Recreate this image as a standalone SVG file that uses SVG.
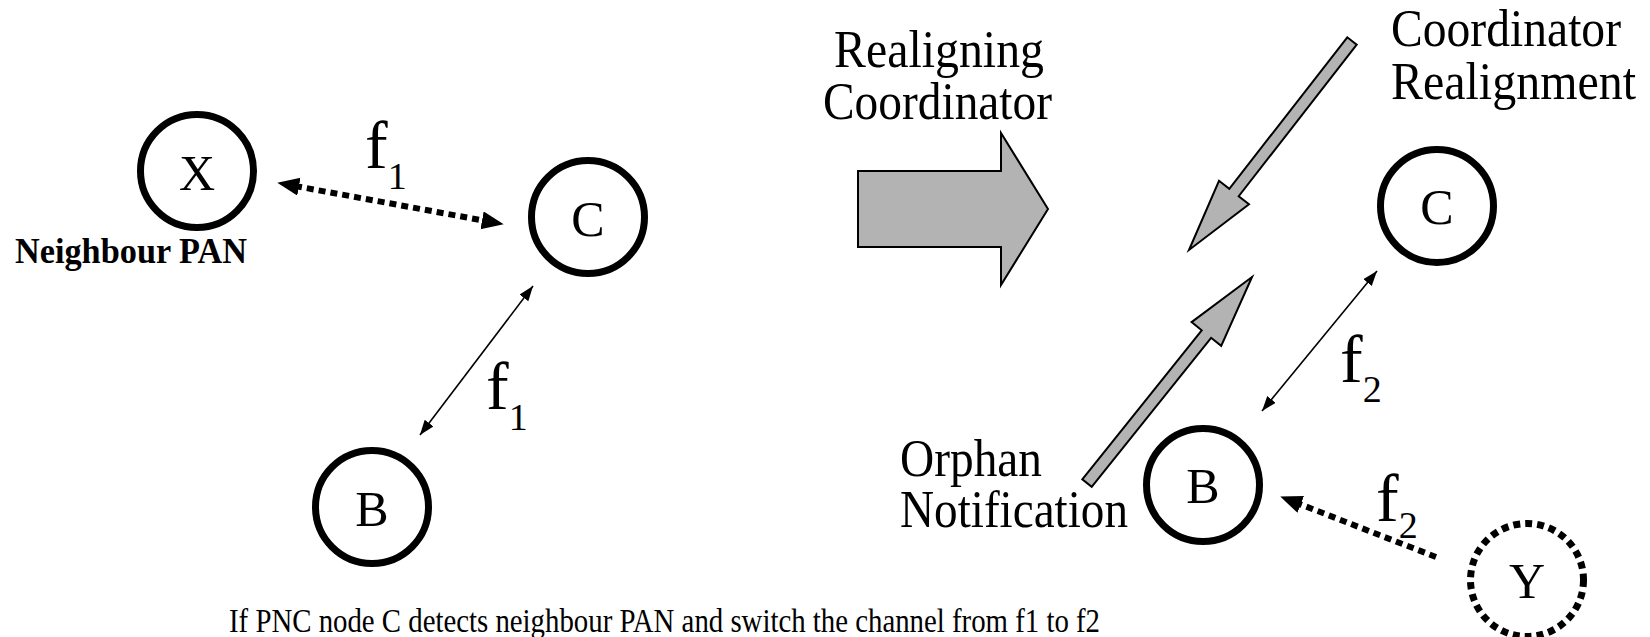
<svg xmlns="http://www.w3.org/2000/svg" width="1650" height="637" viewBox="0 0 1650 637">
<defs>
<style>
text{font-family:"Liberation Serif","Times New Roman",serif;fill:#000}
.node{fill:#fff;stroke:#000;stroke-width:7}
.dotnode{fill:#fff;stroke:#000;stroke-width:7;stroke-dasharray:7 5}
.lbl{font-size:50px;text-anchor:middle}
.big{font-size:52px}
.f{font-size:68px}
.sub{font-size:38px}
.thin{stroke:#000;stroke-width:1.6;fill:none}
.dots{stroke:#000;stroke-width:6;stroke-dasharray:7 5;fill:none}
.block{fill:#b3b3b3;stroke:#000;stroke-width:2;stroke-linejoin:miter}
</style>
<marker id="headS" markerUnits="userSpaceOnUse" markerWidth="16" markerHeight="12" refX="15" refY="5.5" orient="auto-start-reverse" viewBox="0 0 16 12">
<path d="M0,0 L15,5.5 L0,11 z" fill="#000"/>
</marker>
<marker id="headB" markerUnits="userSpaceOnUse" markerWidth="24" markerHeight="20" refX="4" refY="9" orient="auto-start-reverse" viewBox="0 0 24 20">
<path d="M0,0 L22,9 L0,18 z" fill="#000"/>
</marker>
</defs>
<rect width="1650" height="637" fill="#fff"/>

<g id="connectors">
<line class="dots" x1="295" y1="186" x2="486" y2="221" marker-start="url(#headB)" marker-end="url(#headB)"/>
<line class="thin" x1="533" y1="286" x2="420" y2="435" marker-start="url(#headS)" marker-end="url(#headS)"/>
<line class="thin" x1="1377" y1="271" x2="1262" y2="411" marker-start="url(#headS)" marker-end="url(#headS)"/>
<line class="dots" x1="1436" y1="557" x2="1297" y2="503" marker-end="url(#headB)"/>
<polygon id="big-arrow" class="block" points="858,171 1001,171 1001,133 1048,209 1001,285 1001,247 858,247"/>
<polygon id="realign-arrow" class="block" points="1347.3,37.3 1229.3,188.8 1219,180.8 1189,250 1249,204.2 1238.7,196.2 1356.7,44.7"/>
<polygon id="orphan-arrow" class="block" points="1082.3,479.3 1201.7,330.3 1191.6,322.1 1252,277 1221.2,345.9 1211.1,337.8 1091.7,486.8"/>
</g>

<g id="node-X">
<circle class="node" cx="197" cy="171" r="56.5"/>
<text class="lbl" x="197" y="190">X</text>
<text x="15" y="263" font-size="35" font-weight="bold" textLength="232" lengthAdjust="spacingAndGlyphs">Neighbour PAN</text>
</g>
<g id="node-C1">
<circle class="node" cx="588" cy="217" r="56.5"/>
<text class="lbl" x="588" y="236">C</text>
</g>
<g id="node-B1">
<circle class="node" cx="372" cy="507" r="56.5"/>
<text class="lbl" x="372" y="526">B</text>
</g>
<g id="node-C2">
<circle class="node" cx="1437" cy="206" r="56.5"/>
<text class="lbl" x="1437" y="224">C</text>
</g>
<g id="node-B2">
<circle class="node" cx="1203" cy="485" r="56.5"/>
<text class="lbl" x="1203" y="503">B</text>
</g>
<g id="node-Y">
<circle class="dotnode" cx="1527" cy="580" r="56.5"/>
<text class="lbl" x="1527" y="598">Y</text>
</g>

<g id="labels">
<text class="f" x="365" y="168">f<tspan class="sub" dy="21">1</tspan></text>
<text class="f" x="486" y="409">f<tspan class="sub" dy="21">1</tspan></text>
<text class="f" x="1340" y="382">f<tspan class="sub" dy="20">2</tspan></text>
<text class="f" x="1376" y="521">f<tspan class="sub" dy="17">2</tspan></text>
<text class="big" x="834" y="67" textLength="210" lengthAdjust="spacingAndGlyphs">Realigning</text>
<text class="big" x="823" y="119" textLength="229" lengthAdjust="spacingAndGlyphs">Coordinator</text>
<text class="big" x="1391" y="46" textLength="230" lengthAdjust="spacingAndGlyphs">Coordinator</text>
<text class="big" x="1391" y="99" textLength="245" lengthAdjust="spacingAndGlyphs">Realignment</text>
<text class="big" x="900" y="476" textLength="142" lengthAdjust="spacingAndGlyphs">Orphan</text>
<text class="big" x="900" y="527" textLength="228" lengthAdjust="spacingAndGlyphs">Notification</text>
<text x="229" y="632" font-size="33" textLength="871" lengthAdjust="spacingAndGlyphs">If PNC node C detects neighbour PAN and switch the channel from f1 to f2</text>
</g>
</svg>
